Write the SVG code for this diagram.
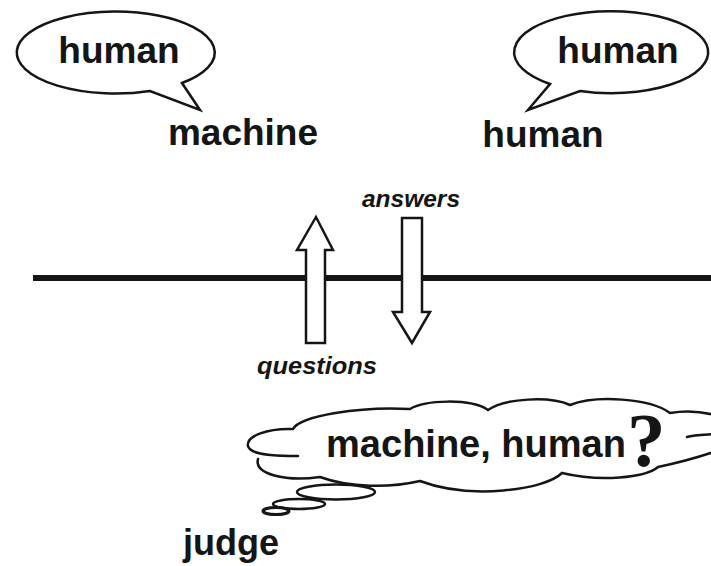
<svg xmlns="http://www.w3.org/2000/svg" width="711" height="566" viewBox="0 0 711 566">
<style>
.t{font-family:"Liberation Sans",Arial,sans-serif;font-weight:bold;fill:#151515;text-anchor:middle}
.i{font-style:italic}
.o{fill:#fff;stroke:#151515;stroke-width:2.5;stroke-linejoin:miter}
.c{fill:none;stroke:#151515;stroke-width:2.5;stroke-linecap:round}
</style>
<rect width="711" height="566" fill="#fff"/>
<g id="connectors">
<line x1="33" y1="278" x2="720" y2="278" stroke="#151515" stroke-width="6"/>
</g>
<g id="bubble-left">
<path class="o" d="M 182,83 A 99 41 0 1 0 150,91 L 200,110 Z"/>
<text class="t" x="119" y="63" font-size="37">human</text>
</g>
<g id="machine">
<text class="t" x="243" y="145" font-size="37">machine</text>
</g>
<g id="bubble-right">
<path class="o" d="M 550,84 A 97 41 0 1 1 580,91 L 528,110 Z"/>
<text class="t" x="618" y="63" font-size="37">human</text>
</g>
<g id="human">
<text class="t" x="543" y="147" font-size="37">human</text>
</g>
<g id="questions-arrow">
<polygon class="o" points="306,343 325,343 325,250 333,250 316,217 297,250 306,250"/>
<text class="t i" x="317" y="374" font-size="24" textLength="120" lengthAdjust="spacingAndGlyphs">questions</text>
</g>
<g id="answers-arrow">
<polygon class="o" points="402,218 422,218 422,312 430,312 412,343 393,312 402,312"/>
<text class="t i" x="411" y="207" font-size="23" textLength="98" lengthAdjust="spacingAndGlyphs">answers</text>
</g>
<g id="thought">
<path class="c" d="M 298,456 C 282,456 250,456 248,446 C 246,436 268,428 293,429 C 300,416 360,406 410,409 C 425,400 470,398 488,410 C 505,398 550,396 570,405 C 595,395 650,398 670,413 C 700,408 740,418 730,430 C 725,436 700,433 687,437"/>
<path class="c" d="M 730,446 C 705,456 682,462 658,467 C 645,478 600,482 562,473 C 545,490 470,500 420,481 C 390,488 350,488 320,477 C 285,482 254,474 258,459"/>
<ellipse class="o" cx="336" cy="492" rx="39" ry="7.5"/>
<ellipse class="o" cx="299" cy="504" rx="26" ry="5"/>
<ellipse cx="276" cy="511" rx="13" ry="3.5" fill="#fff" stroke="#151515" stroke-width="3"/>
<text class="t" x="476" y="457" font-size="38">machine, human</text>
<text x="627" y="466" font-family="'Liberation Serif','Times New Roman',serif" font-weight="bold" font-size="77" fill="#151515">?</text>
</g>
<g id="judge">
<text class="t" x="231" y="555" font-size="36">judge</text>
</g>
</svg>
